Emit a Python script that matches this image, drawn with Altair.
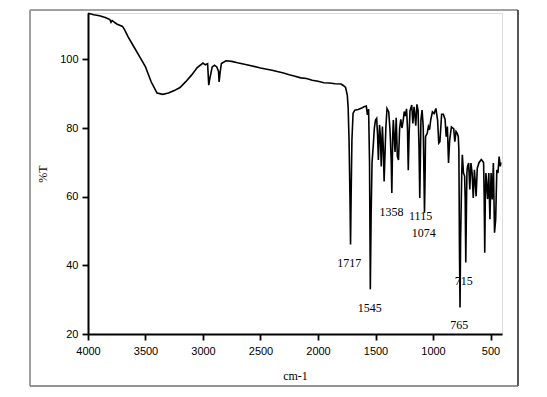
import altair as alt
import pandas as pd

# ---- data ----
wavenumber = [4000, 3950, 3900, 3850, 3810, 3800, 3790, 3750, 3700, 3680, 3650, 3600, 3550, 3500,
              3450, 3400, 3350, 3300, 3250, 3200, 3150, 3100, 3050, 3000, 2980, 2960, 2950, 2940,
              2920, 2900, 2880, 2865, 2860, 2852, 2840, 2800, 2750, 2700, 2600, 2500, 2400, 2300,
              2250, 2200, 2150, 2100, 2050, 2000, 1950, 1900, 1850, 1800, 1780, 1760, 1745, 1738,
              1730, 1722, 1717, 1712, 1705, 1695, 1680, 1650, 1620, 1600, 1580, 1570, 1560, 1552,
              1545, 1538, 1530, 1520, 1510, 1500, 1490, 1482, 1475, 1465, 1458, 1450, 1440, 1432,
              1425, 1415, 1410, 1400, 1385, 1375, 1370, 1363, 1358, 1350, 1345, 1335, 1330, 1320,
              1310, 1300, 1290, 1280, 1270, 1260, 1250, 1240, 1230, 1222, 1215, 1208, 1200, 1185,
              1175, 1165, 1158, 1150, 1140, 1130, 1122, 1115, 1108, 1105, 1095, 1085, 1078, 1074,
              1068, 1065, 1050, 1040, 1030, 1020, 1005, 990, 975, 960, 950, 940, 925, 910, 895,
              885, 875, 865, 855, 840, 820, 810, 800, 790, 780, 775, 770, 765, 760, 750, 745, 735,
              725, 720, 715, 708, 705, 700, 690, 680, 670, 660, 650, 640, 632, 625, 615, 600, 580,
              565, 560, 555, 550, 545, 540, 532, 525, 515, 505, 495, 485, 475, 465, 455, 445, 435,
              425, 415, 410]
transmittance = [113.4, 113.0, 112.7, 112.2, 111.6, 110.8, 111.3, 110.3, 109.6, 108.5, 106.5, 103.6,
                 100.7, 97.8, 93.4, 90.2, 89.8, 90.2, 90.9, 91.8, 93.5, 95.4, 97.6, 98.9, 98.4, 98.7,
                 92.5, 94.5, 97.8, 98.3, 97.8, 96.5, 93.4, 96.0, 98.8, 99.6, 99.4, 99.0, 98.3, 97.5,
                 96.8, 96.0, 95.5, 95.1, 94.6, 94.4, 93.9, 93.6, 93.2, 93.1, 92.9, 92.8, 92.4, 91.8,
                 89.5, 86.0, 76.5, 60.0, 46.1, 60.0, 76.5, 84.3, 85.2, 85.4, 85.8, 86.2, 86.4, 83.8,
                 85.5, 70.0, 33.0, 55.0, 70.0, 74.6, 80.0, 82.3, 82.8, 78.0, 70.7, 80.9, 78.0, 68.8,
                 80.4, 74.0, 64.4, 75.0, 80.0, 85.7, 84.7, 80.0, 76.5, 70.0, 61.1, 78.0, 82.3, 76.0,
                 73.0, 83.0, 71.7, 70.7, 80.0, 82.5, 80.0, 82.0, 84.8, 83.5, 85.6, 80.0, 67.7, 78.0,
                 85.0, 86.7, 81.3, 86.2, 84.0, 80.7, 86.9, 85.2, 75.0, 59.6, 75.0, 82.3, 85.2, 80.4,
                 65.0, 55.3, 68.0, 77.5, 78.5, 80.4, 79.5, 82.3, 84.7, 84.2, 85.7, 82.3, 75.6, 76.0,
                 84.0, 84.0, 82.5, 77.5, 80.4, 69.8, 76.5, 80.3, 79.8, 76.0, 79.0, 78.5, 77.5, 73.5,
                 45.0, 27.7, 47.5, 66.9, 72.2, 66.9, 66.0, 59.2, 40.8, 60.0, 66.9, 68.8, 69.8, 62.1,
                 69.8, 66.9, 59.6, 67.8, 64.0, 60.1, 68.3, 69.9, 70.8, 70.2, 69.8, 60.0, 43.7, 60.0,
                 66.9, 63.0, 59.3, 66.9, 53.4, 66.9, 59.2, 69.8, 49.5, 53.4, 67.8, 66.9, 71.7, 68.8,
                 70.0]

peak_labels = ["1717", "1545", "1358", "1115", "1074", "715", "765"]
peak_label_x = [1728, 1550, 1360, 1108, 1080, 733, 771]
peak_label_y = [40.7, 27.5, 55.4, 54.3, 49.5, 35.5, 22.6]

x_ticks = [4000, 3750, 3500, 3250, 3000, 2750, 2500, 2250, 2000, 1750, 1500, 1250, 1000, 750, 500]
y_ticks = [20, 30, 40, 50, 60, 70, 80, 90, 100, 110]

spec = pd.DataFrame({"wn": wavenumber, "T": transmittance})
peaks = pd.DataFrame({"label": peak_labels, "wn": peak_label_x, "T": peak_label_y})
one = pd.DataFrame({"k": [0]})

W, H = 414, 321
xscale = alt.Scale(domain=[400, 4000], reverse=True, nice=False, zero=False)
yscale = alt.Scale(domain=[20, 113.5], nice=False, zero=False)

xaxis = alt.Axis(
    values=x_ticks, grid=False, title="cm-1", format="d",
    labelExpr="datum.value % 500 === 0 ? datum.label : ''",
    tickSize={"condition": {"test": "datum.value % 500 !== 0", "value": 4}, "value": 6},
    tickWidth=1.8, tickColor="black", domainColor="black", domainWidth=2,
    labelFont="Liberation Sans", labelFontSize=11, labelColor="black", labelPadding=5,
    labelFlush=False, labelOverlap=False,
    titleFont="Liberation Serif", titleFontSize=12, titleFontWeight="normal",
    titleColor="black", titlePadding=14,
)
yaxis = alt.Axis(
    values=y_ticks, grid=False, title="%T", format="d",
    labelExpr="datum.value % 20 === 0 ? datum.label : ''",
    tickSize={"condition": {"test": "datum.value % 20 !== 0", "value": 4}, "value": 6},
    tickWidth=1.8, tickColor="black", domainColor="black", domainWidth=2,
    labelFont="Liberation Sans", labelFontSize=11, labelColor="black", labelPadding=4,
    labelFlush=False, labelOverlap=False,
    titleFont="Liberation Serif", titleFontSize=12, titleFontWeight="normal",
    titleColor="black", titlePadding=10,
)

line = alt.Chart(spec).mark_line(color="black", strokeWidth=1.6).encode(
    x=alt.X("wn:Q", scale=xscale, axis=xaxis),
    y=alt.Y("T:Q", scale=yscale, axis=yaxis),
)

labels = alt.Chart(peaks).mark_text(
    font="Liberation Serif", fontSize=12, color="black"
).encode(
    x=alt.X("wn:Q", scale=xscale),
    y=alt.Y("T:Q", scale=yscale),
    text="label:N",
)

# outer frame (decoration around the whole figure)
L, R, T, B = -58, 430, -3, 373
frame_left = alt.Chart(one).mark_rule(color="#a0a0a0", strokeWidth=2).encode(
    x=alt.value(L), y=alt.value(T), y2=alt.value(B))
frame_top = alt.Chart(one).mark_rule(color="#a0a0a0", strokeWidth=2).encode(
    x=alt.value(L), x2=alt.value(R), y=alt.value(T))
frame_right = alt.Chart(one).mark_rule(color="#202020", strokeWidth=1.5).encode(
    x=alt.value(R), y=alt.value(T), y2=alt.value(B))
frame_bottom = alt.Chart(one).mark_rule(color="#707070", strokeWidth=1.5).encode(
    x=alt.value(L), x2=alt.value(R), y=alt.value(B))

chart = alt.layer(line, labels, frame_left, frame_top, frame_right, frame_bottom).properties(
    width=W, height=H,
    autosize=alt.AutoSizeParams(type="none"),
    padding={"left": 80, "top": 5, "right": 18, "bottom": 54},
).configure_view(stroke=None).configure(background="white")

chart.save("out.html", embed_options={"renderer": "svg", "actions": False})
